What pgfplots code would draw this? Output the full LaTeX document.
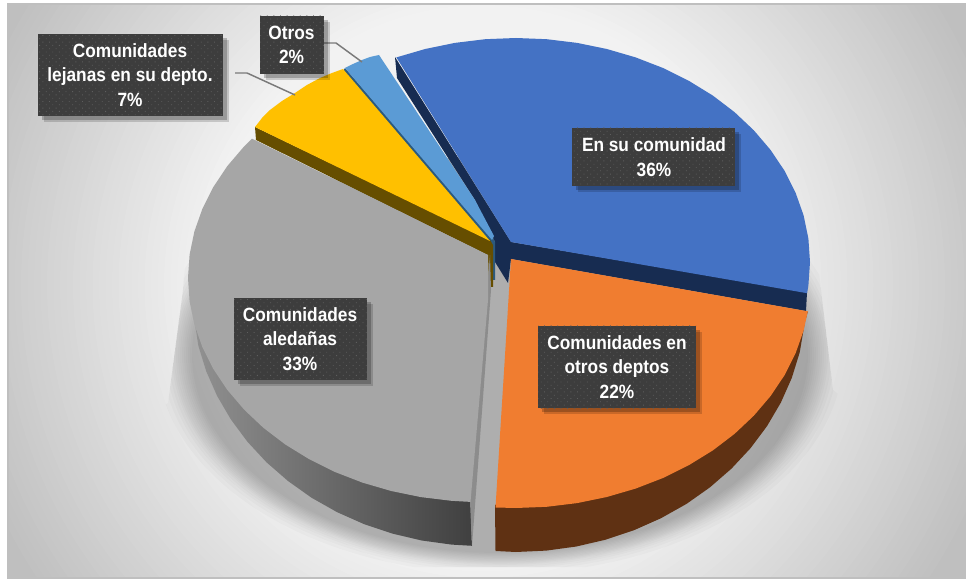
\documentclass[border=0pt]{standalone}
\usepackage{pgfplots}
\pgfplotsset{compat=1.18}
\usepackage{fontspec}
\setmainfont[FakeStretch=0.9]{Liberation Sans}
\usetikzlibrary{patterns.meta}
\definecolor{boxc}{HTML}{3D3D3D}
\definecolor{dotc}{HTML}{5E5E5E}
\definecolor{cblue}{HTML}{4472C4}
\definecolor{cnavy}{HTML}{172C51}
\definecolor{corange}{HTML}{F07D30}
\definecolor{cbrown}{HTML}{5F3113}
\definecolor{cgray}{HTML}{A6A6A6}
\definecolor{cyellow}{HTML}{FFC000}
\definecolor{cbyellow}{HTML}{664E00}
\definecolor{clblue}{HTML}{5B9BD5}
\definecolor{cteal}{HTML}{2C5A7E}
\newcommand{\lab}[3]{%
 \node[text=white,font=\fontsize{14.4}{18.4}\selectfont\bfseries,align=center,inner sep=0pt] at (axis cs:#1,#2) {#3};}
\newcommand{\bx}[4]{%
 \fill[black,opacity=.16] (axis cs:#1+6,#2+6) rectangle (axis cs:#3+6,#4+6);
 \fill[black,opacity=.22] (axis cs:#1+4,#2+4) rectangle (axis cs:#3+4,#4+4);
 \fill[boxc] (axis cs:#1,#2) rectangle (axis cs:#3,#4);
 \fill[pattern={Dots[distance=3.5pt,radius=.45pt,angle=45]},pattern color=dotc] (axis cs:#1,#2) rectangle (axis cs:#3,#4);}
\begin{document}
\begin{tikzpicture}
\begin{axis}[scale only axis,width=724.5pt,height=435pt,xmin=0,xmax=966,ymin=0,ymax=580,y dir=reverse,hide axis,clip=true,no marks,
 /pgf/number format/assume math mode=true]
% page extent and background
\addplot[draw=none,fill=white] coordinates {(0,0)(966,0)(966,580)(0,580)};
\begin{scope}
\clip (axis cs:8,4) rectangle (axis cs:966,578);
\fill[overlay,black!25] (axis cs:8,4) rectangle (axis cs:966,578);
\pgfplotsinvokeforeach{24.5,24,...,5}{
 \fill[overlay,black!#1] (axis cs:483,285) circle ({0.75*(215+13*#1)*1pt});
}
\end{scope}
\draw[color=black!25,line width=1pt] (axis cs:966,4) -- (axis cs:8,4) -- (axis cs:8,578) -- (axis cs:966,578);
% soft shadow
\begin{scope}
\clip (axis cs:183,290) -- (axis cs:168,403) -- (axis cs:100,440) -- (axis cs:100,567) -- (axis cs:900,567) -- (axis cs:900,440) -- (axis cs:833,390) -- (axis cs:821,290) -- (axis cs:811,200) -- (axis cs:500,150) -- (axis cs:190,200) -- cycle;
\pgfplotsinvokeforeach{0,2,4,6,8,10,12,14,16,18,20,23,26,30,35}{
 \fill[black,opacity=.02] (axis cs:500,355) ellipse [x radius={0.75*(308+#1)*1pt},y radius={0.75*(198+0.6*#1)*1pt}];
}
\end{scope}
% navy sides
\addplot[draw=none,fill=cnavy] coordinates {(395,57)(397,78)(475,200)(495,242)(495,262)(508,283)(511,259)(806,311)(807,292)(511,242)};
% orange
\addplot[draw=none,fill=cbrown] coordinates {(495,505)(495.5,551)(516,552)(546.3,550.6)(576.3,546.5)(605.6,539.7)(634,530.2)(661,518.2)(686.5,503.9)(710,487.3)(731.5,468.6)(750.6,448.1)(767.1,426)(780.9,402.5)(791.8,377.9)(799.7,352.4)(804.9,322)(808,311)(750,400)};
\addplot[draw=none,fill=corange] coordinates {(511,259)(495.5,507.5)(516,508)(546.7,506.8)(577.1,503.1)(606.8,497)(635.6,488.6)(663,478)(688.8,465.2)(712.7,450.5)(734.5,433.9)(753.8,415.7)(770.6,396)(784.6,375.1)(795.6,353.2)(803.6,330.6)(807.8,311.3)};
% blue
\addplot[draw=none,fill=cblue] coordinates {(511,242)(396.4,57.4)(425.2,49)(454.9,42.9)(485.3,39.2)(516,38)(546.7,39.2)(577.1,42.9)(606.8,49)(635.6,57.4)(663,68)(688.8,80.8)(712.7,95.5)(734.5,112.1)(753.8,130.3)(770.6,150)(784.6,170.9)(795.6,192.8)(803.6,215.4)(808.4,238.6)(810,262)(808.4,285.4)(807.1,293.2)};
% teal side of small slice
\addplot[draw=none,fill=cteal] coordinates {(345,68)(492,236)(495,242)(495,280)(492,280)(492,246)(343,71)};
% light blue
\addplot[draw=none,fill=clblue] coordinates {(345,68)(353,64)(362,60)(370,57)(379,55)(475,200)(494,236)(492,240)};
% yellow
\addplot[draw=none,fill=cbyellow] coordinates {(255,127)(256,140)(488,255)(489,287)(493,287)(493,245)(490,240)};
\addplot[draw=none,fill=cyellow] coordinates {(343,69)(332,73)(320,78)(307,85)(295,93)(282,101)(270,110)(262,118)(255,127)(490,241)};
% gray
\addplot[draw=none,left color=black!43,right color=black!75] coordinates {(192.4,306)(198.3,345.6)(206.2,371.2)(217.1,395.9)(230.9,419.5)(247.4,441.7)(266.5,462.3)(288,481)(311.5,497.7)(337,512.1)(364,524.1)(392.4,533.6)(421.7,540.5)(451.7,544.6)(471.9,545.8)(470,480)(300,400)(200,300)};
\addplot[draw=none,fill=black!45] coordinates {(490,255)(491,290)(472,546)(470,502)(486,300)};
\addplot[draw=none,fill=cgray] coordinates {(251.9,138.6)(244.2,146.3)(227.4,166)(213.4,186.9)(202.4,208.8)(194.4,231.4)(189.6,254.6)(188,278)(189.6,301.4)(194.4,324.6)(202.4,347.2)(213.4,369.1)(227.4,390)(244.2,409.7)(263.5,427.9)(285.3,444.5)(309.2,459.2)(335,472)(362.4,482.6)(391.2,491)(420.9,497.1)(451.3,500.8)(470.5,501.9)(488,300)(488,255)};
% leaders
\addplot[color=black!52,line width=1.1pt] coordinates {(235,73)(247,73)(295,95)};
\addplot[color=black!52,line width=1.1pt] coordinates {(324,43)(336,43)(362,62)};
% labels
\bx{38}{34}{223}{116}\lab{130}{75}{Comunidades\\lejanas en su depto.\\7\%}
\bx{260}{16}{324}{74}\lab{291.5}{45}{Otros\\2\%}
\bx{572}{128}{735}{186}\lab{654}{157}{En su comunidad\\36\%}
\bx{234}{298}{367}{380}\lab{300}{339}{Comunidades\\aledañas\\33\%}
\bx{538}{326}{696}{408}\lab{617}{367}{Comunidades en\\otros deptos\\22\%}
\end{axis}
\end{tikzpicture}
\end{document}
